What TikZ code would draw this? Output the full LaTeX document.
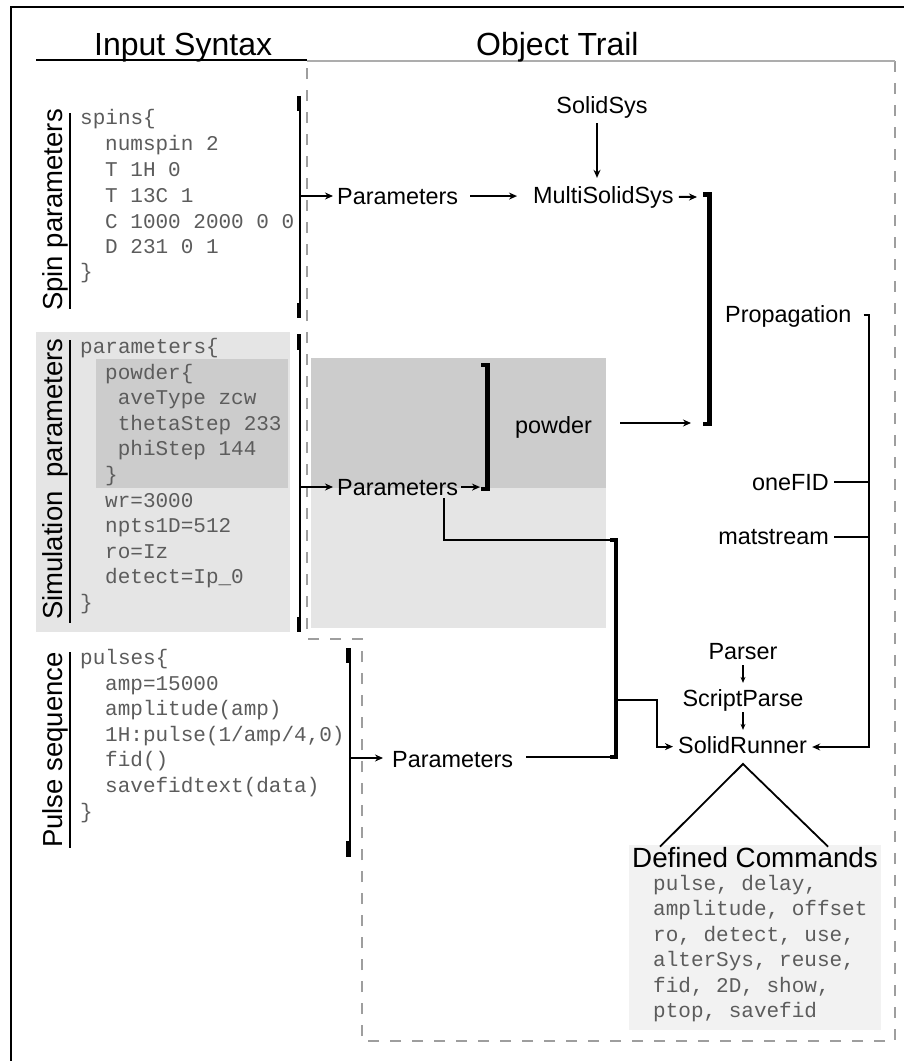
\documentclass[tikz,border=0pt]{standalone}
\usepackage{fontspec}
\setmainfont{Liberation Sans}
\newfontfamily\codefont{Liberation Mono}
\usetikzlibrary{arrows.meta}
\definecolor{codegray}{gray}{0.36}
\definecolor{lightbox}{gray}{0.898}
\definecolor{darkbox}{gray}{0.8}
\definecolor{dcbox}{gray}{0.949}
\definecolor{dashgray}{gray}{0.62}
\tikzset{
 code/.style={font=\codefont\fontsize{21}{25}\selectfont, text=codegray, anchor=base west, inner sep=0pt},
 lab/.style={font=\fontsize{23.4}{28}\selectfont, inner sep=0pt},
 ttl/.style={font=\fontsize{32}{38}\selectfont, inner sep=0pt, anchor=base west},
 side/.style={font=\fontsize{27.5}{32}\selectfont, inner sep=0pt, rotate=90, anchor=base},
 conn/.style={line width=2pt},
 arr/.style={line width=2pt, -{Stealth[length=8pt,width=7pt]}},
 sarr/.style={line width=1.6pt, -{Stealth[length=6pt,width=5pt]}},
 brk/.style={line width=4.5pt},
 dashline/.style={draw=dashgray, line width=2pt, dash pattern=on 11pt off 11pt},
}
\begin{document}
\begin{tikzpicture}[x=1pt,y=-1pt]
\useasboundingbox (0,0) rectangle (903,1061);
\fill[white] (0,0) rectangle (903,1061);
% grey regions
\fill[lightbox] (36,332) rectangle (290,632);
\fill[darkbox] (96,359) rectangle (288,488);
\fill[darkbox] (311,358) rectangle (606,488);
\fill[lightbox] (311,488) rectangle (606,628);
\fill[dcbox] (629,845) rectangle (881,1030);
% outer border
\draw[line width=2.5pt] (11,1075) -- (11,7) -- (915,7);
% object trail outline
\draw[dashline] (895,61) -- (895,1041) -- (362,1041) -- (362,639) -- (307,639) -- (307,61);
\draw[draw=dashgray!85, line width=2.5pt] (307,61) -- (895,61);
\draw[line width=2pt] (36,60) -- (307,60);
% titles
\node[ttl] (tin) at (94,55) {Input Syntax};
\node[ttl] (tob) at (476,55) {Object Trail};
% side labels
\node[side] (lspin) at (62,210) {Spin parameters};
\node[side] (lsim) at (62,479) {Simulation\hspace{14pt}parameters};
\node[side] (lpul) at (62,750) {Pulse sequence};
\draw[conn] (70,113) -- (70,309);
\draw[conn] (70,340) -- (70,623);
\draw[conn] (70,652) -- (70,848);
% spin code
\node[code] (s1) at (80,124) {spins\{};
\node[code] (s2) at (105,150) {numspin 2};
\node[code] (s3) at (105,176) {T 1H 0};
\node[code] (s4) at (105,202) {T 13C 1};
\node[code] (s5) at (105,228) {C 1000 2000 0 0};
\node[code] (s6) at (105,253) {D 231 0 1};
\node[code] (s7) at (80,278) {\}};
% simulation code
\node[code] (m1) at (80,353) {parameters\{};
\node[code] (m2) at (105,379) {powder\{};
\node[code] (m3) at (117.6,404) {aveType zcw};
\node[code] (m4) at (117.6,430) {thetaStep 233};
\node[code] (m5) at (117.6,455) {phiStep 144};
\node[code] (m6) at (105,481) {\}};
\node[code] (m7) at (105,507) {wr=3000};
\node[code] (m8) at (105,532) {npts1D=512};
\node[code] (m9) at (105,558) {ro=Iz};
\node[code] (m10) at (105,583) {detect=Ip\_0};
\node[code] (m11) at (80,609) {\}};
% pulse code
\node[code] (p1) at (80,664) {pulses\{};
\node[code] (p2) at (105,690) {amp=15000};
\node[code] (p3) at (105,715) {amplitude(amp)};
\node[code] (p4) at (105,741) {1H:pulse(1/amp/4,0)};
\node[code] (p5) at (105,766) {fid()};
\node[code] (p6) at (105,792) {savefidtext(data)};
\node[code] (p7) at (80,818) {\}};
% defined commands
\node[font=\fontsize{27.8}{32}\selectfont, inner sep=0pt, anchor=base west] (dc) at (632,867) {Defined Commands};
\node[code] (d1) at (653,890) {pulse, delay,};
\node[code] (d2) at (653,915) {amplitude, offset};
\node[code] (d3) at (653,941) {ro, detect, use,};
\node[code] (d4) at (653,966) {alterSys, reuse,};
\node[code] (d5) at (653,992) {fid, 2D, show,};
\node[code] (d6) at (653,1017) {ptop, savefid};
% object trail labels
\node[lab, anchor=base] (ssys) at (602,113) {SolidSys};
\node[lab, anchor=base west] (msys) at (533,203) {MultiSolidSys};
\node[lab, anchor=base west] (par1) at (337,204) {Parameters};
\node[lab, anchor=base west] (prop) at (725,322) {Propagation};
\node[lab, anchor=base west] (powder) at (515,433) {powder};
\node[lab, anchor=base west] (par2) at (337,495) {Parameters};
\node[lab, anchor=base east] (onefid) at (829,490) {oneFID};
\node[lab, anchor=base east] (mats) at (829,544) {matstream};
\node[lab, anchor=base] (parser) at (743,659) {Parser};
\node[lab, anchor=base] (spars) at (743,706) {ScriptParse};
\node[lab, anchor=base west] (srun) at (678,753) {SolidRunner};
\node[lab, anchor=base west] (par3) at (392,767) {Parameters};
% brackets on the input side
\draw[conn] (300,96) -- (300,318);
\draw[brk] (299,96) -- (299,111);
\draw[brk] (299,303) -- (299,318);
\coordinate (sb) at (300,196);
\draw[arr, shorten >=4pt] (sb) -- (sb -| par1.west);
\draw[conn] (300,334) -- (300,632);
\draw[brk] (299,334) -- (299,350);
\draw[brk] (299,617) -- (299,632);
\coordinate (simb) at (300,487);
\draw[arr, shorten >=4pt] (simb) -- (simb -| par2.west);
\draw[conn] (350,648) -- (350,857);
\draw[brk] (348.5,648) -- (348.5,663);
\draw[brk] (348.5,841) -- (348.5,857);
\coordinate (pb) at (350,758);
\draw[arr, shorten >=9pt] (pb) -- (pb -| par3.west);
% spin chain
\draw[arr, shorten <=12pt, shorten >=16pt] (par1.east) -- (par1.east -| msys.west);
\draw[arr, shorten <=5pt, shorten >=8pt] ([xshift=-5pt]ssys.south) -- ([xshift=-5pt]ssys.south |- msys.north);
\coordinate (mbin) at (700,197);
\draw[arr, shorten <=5pt, shorten >=3pt] (msys.east) -- (mbin);
\draw[brk] (703,194.5) -- (709.5,194.5) -- (709.5,424) -- (703,424);
\coordinate (pwin) at (700,423);
\draw[arr, shorten <=28pt, shorten >=9pt] (powder.east |- pwin) -- (pwin);
% propagation return
\coordinate (rtop) at (869,315);
\coordinate (rbot) at (869,747);
\draw[arr, shorten >=5pt] ([xshift=12pt]prop.east |- rtop) -- (rtop) -- (rbot) -- (rbot -| srun.east);
\draw[conn] ([xshift=5pt]onefid.east) -- (onefid.east -| rtop);
\draw[conn] ([xshift=5pt]mats.east) -- (mats.east -| rtop);
% simulation chain
\coordinate (pwb) at (487,487);
\draw[arr, shorten <=3pt, shorten >=7pt] (par2.east) -- (par2.east -| pwb);
\draw[brk] (481,365) -- (487.5,365) -- (487.5,489) -- (481,489);
\coordinate (tb) at (616,540);
\draw[conn] ([xshift=-14pt,yshift=-3pt]par2.south east) |- (tb);
\draw[brk] (610,540) -- (616,540) -- (616,757) -- (610,757);
\coordinate (tbb) at (616,757);
\draw[conn, shorten <=13pt] (par3.east |- tbb) -- (tbb);
\coordinate (br) at (616,700);
\coordinate (brc) at (657,700);
\draw[arr, shorten >=5pt] (br) -- (brc) |- ([yshift=-2pt]srun.west);
% parser chain
\draw[sarr, shorten <=6pt, shorten >=6pt] (parser.south) -- (spars.north);
\draw[sarr, shorten <=1pt, shorten >=6pt] (spars.south) -- (spars.south |- srun.north);
\coordinate (apex) at (743,764);
\draw[conn, line width=1.8pt] ([xshift=28pt]dc.north west) -- (apex) -- ([xshift=-50pt]dc.north east);
\end{tikzpicture}
\end{document}
